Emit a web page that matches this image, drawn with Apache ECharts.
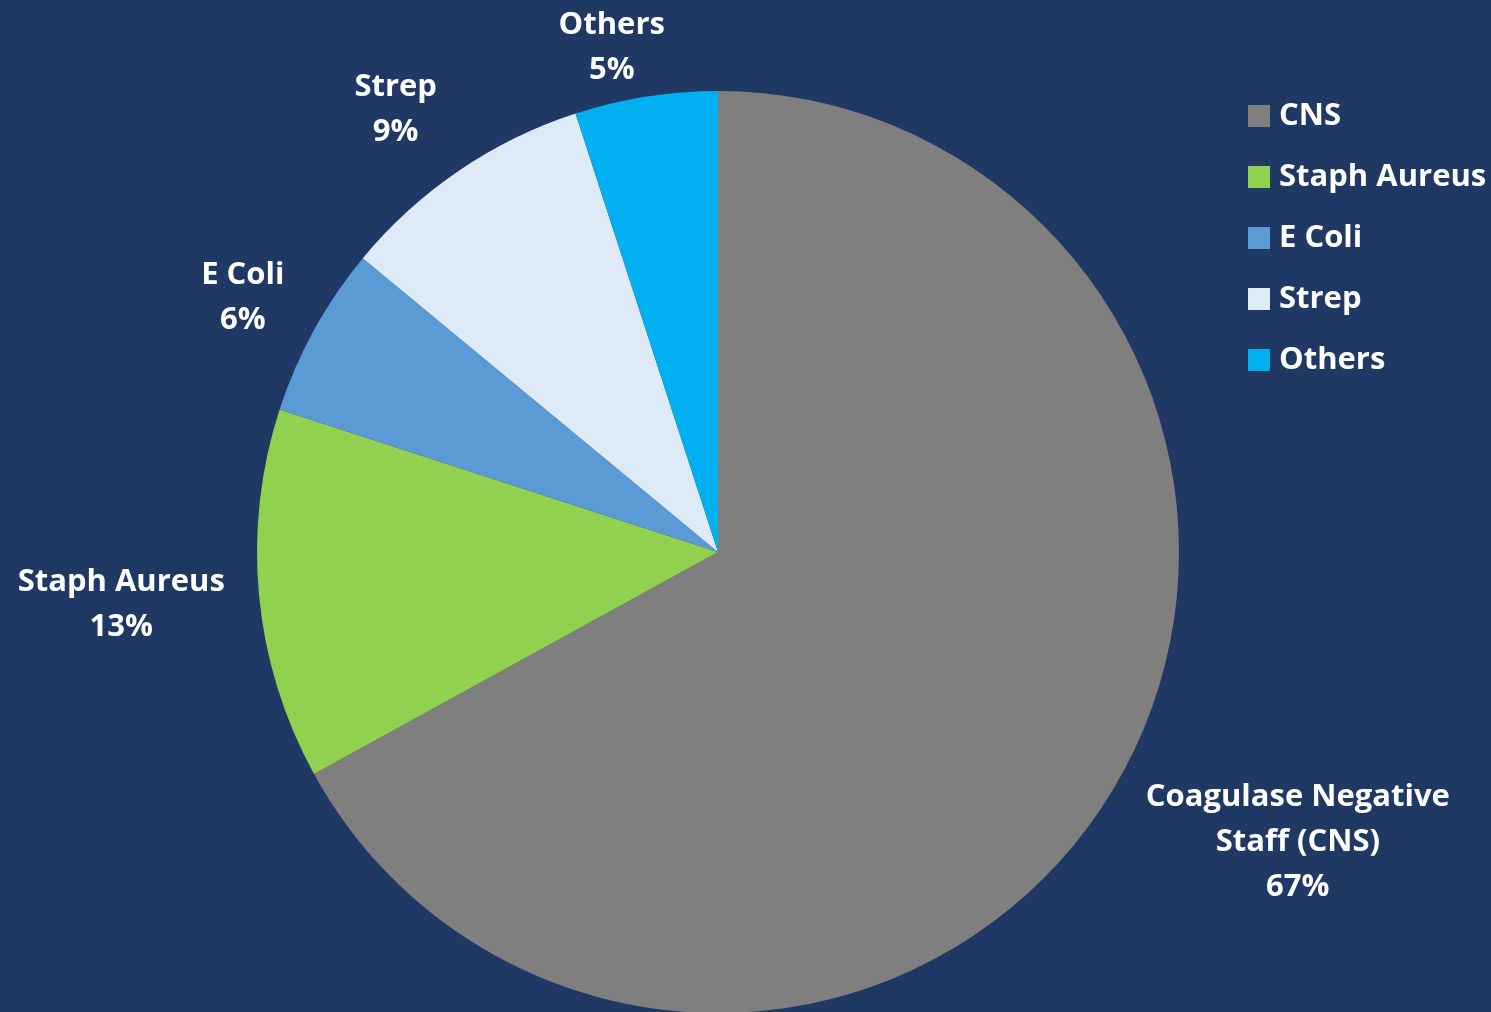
<!DOCTYPE html>
<html>
<head>
<meta charset="utf-8">
<script src="https://cdn.jsdelivr.net/npm/echarts@6/dist/echarts.min.js"></script>
<style>
html,body{margin:0;padding:0;background:#203864;}
#chart{width:1491px;height:1012px;}
</style>
</head>
<body>
<div id="chart"></div>
<script>
// ---- data ----
const categories = ['CNS', 'Staph Aureus', 'E Coli', 'Strep', 'Others'];
const labelNames = ['Coagulase Negative\nStaff (CNS)', 'Staph Aureus', 'E Coli', 'Strep', 'Others'];
const values = [67, 13, 6, 9, 5];

// ---- style ----
const colors = ['#7f7f7f', '#92d050', '#5b9bd5', '#deebf7', '#00b0f0'];
const FONT = '"Open Sans", Lato, sans-serif';
const CX = 718, CY = 552, R = 461;
// label placement beyond the rim: radial distance past the edge and tangential slide
const labelOut = [186, 138, 78, 86, 54];
const labelSlide = [-45, 4, -6, -18, -26];

const total = values.reduce((a, b) => a + b, 0);
let acc = 0;
const midAngles = values.map(v => { const m = (acc + v / 2) / total * 2 * Math.PI; acc += v; return m; });

const chart = echarts.init(document.getElementById('chart'), null, {renderer: 'canvas'});
chart.setOption({
  backgroundColor: '#203864',
  animation: false,
  color: colors,
  legend: {
    orient: 'vertical',
    left: 1248,
    top: 100,
    padding: 0,
    itemWidth: 22,
    itemHeight: 22,
    itemGap: 29,
    icon: 'rect',
    data: categories,
    textStyle: {color: '#ffffff', fontSize: 31, fontWeight: 'bold', fontFamily: FONT, lineHeight: 32, padding: [0, 0, 0, 4]}
  },
  series: [{
    type: 'pie',
    center: [CX, CY],
    radius: R,
    startAngle: 90,
    clockwise: true,
    avoidLabelOverlap: false,
    data: categories.map((c, i) => ({name: c, value: values[i]})),
    itemStyle: {borderWidth: 0},
    emphasis: {disabled: true},
    label: {
      show: true,
      position: 'outside',
      color: '#ffffff',
      fontSize: 31,
      fontWeight: 'bold',
      fontFamily: FONT,
      lineHeight: 45,
      align: 'center',
      formatter: p => labelNames[p.dataIndex] + '\n' + Math.round(p.percent) + '%'
    },
    labelLine: {show: false},
    labelLayout: function (params) {
      const i = params.dataIndex;
      const th = midAngles[i];
      const ux = Math.sin(th), uy = -Math.cos(th);
      const tx = Math.cos(th), ty = Math.sin(th);
      const d = R + labelOut[i];
      return {
        x: CX + ux * d + tx * labelSlide[i],
        y: CY + uy * d + ty * labelSlide[i],
        align: 'center',
        verticalAlign: 'middle'
      };
    }
  }]
});
</script>
</body>
</html>
